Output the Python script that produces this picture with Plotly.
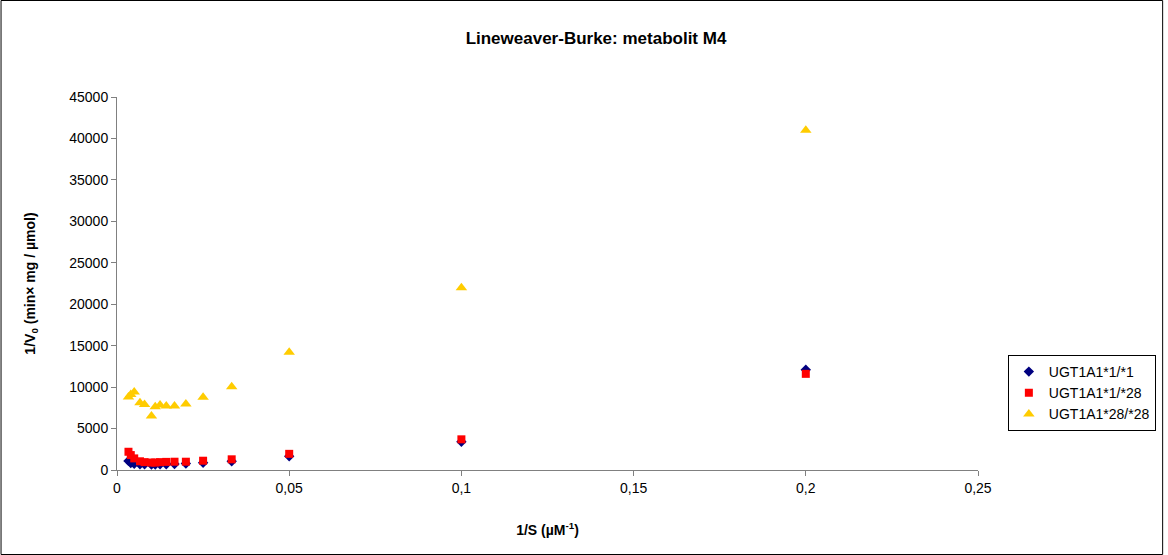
import plotly.graph_objects as go

# 1/S values (µM^-1)
inv_s = [0.2, 0.1, 0.05, 0.0333, 0.025, 0.02, 0.0167, 0.0143, 0.0125, 0.0111,
         0.01, 0.008, 0.00667, 0.005, 0.004, 0.00333]

ugt_11 = [12100, 3400, 1650, 1050, 880, 780, 720, 700, 680, 650,
          650, 680, 700, 750, 850, 1100]
ugt_128 = [11600, 3700, 1950, 1290, 1120, 1000, 1000, 980, 950, 900,
           900, 950, 1050, 1400, 1800, 2200]
ugt_2828 = [41000, 22000, 14200, 10050, 8770, 7960, 7720, 7720, 7840, 7640,
            6500, 7900, 8100, 9400, 9100, 8800]

series_names = ["UGT1A1*1/*1", "UGT1A1*1/*28", "UGT1A1*28/*28"]
x_ticks = [0, 0.05, 0.1, 0.15, 0.2, 0.25]
y_ticks = [0, 5000, 10000, 15000, 20000, 25000, 30000, 35000, 40000, 45000]

font_family = "Liberation Sans, Arial, sans-serif"

fig = go.Figure()
fig.add_trace(go.Scatter(x=inv_s, y=ugt_11, mode="markers", name=series_names[0],
                         marker=dict(symbol="diamond", size=8, color="#000080")))
fig.add_trace(go.Scatter(x=inv_s, y=ugt_128, mode="markers", name=series_names[1],
                         marker=dict(symbol="square", size=8, color="#FF0000")))
fig.add_trace(go.Scatter(x=inv_s, y=ugt_2828, mode="markers", name=series_names[2],
                         marker=dict(symbol="triangle-up", size=10, color="#FFCC00")))

L, R, T, B = 117, 186, 97, 85
W, H = 1168, 555
pw, ph = W - L - R, H - T - B

fig.update_layout(
    width=W, height=H, autosize=False,
    margin=dict(l=L, r=R, t=T, b=B),
    paper_bgcolor="white", plot_bgcolor="white",
    separators=", ",
    font=dict(family=font_family, size=14, color="black"),
    title=dict(text="<b>Lineweaver-Burke: metabolit M4</b>", x=596 / W, xref="container",
               xanchor="center", y=1 - 38 / H, yanchor="middle",
               font=dict(size=17, family=font_family)),
    showlegend=True,
    legend=dict(x=(1012 - L) / pw, y=(H - B - 355) / ph, xanchor="left", yanchor="top",
                bordercolor="black", borderwidth=1, bgcolor="white",
                font=dict(size=14), tracegroupgap=0, itemsizing="trace"),
    xaxis=dict(range=[0, 0.25], tickvals=x_ticks, showgrid=False, zeroline=False,
               showline=True, linecolor="#808080", linewidth=1, ticks="outside",
               ticklen=5, tickcolor="#808080", tickfont=dict(size=14),
               title=dict(text="<b>1/S (µM<sup>-1</sup>)</b>", font=dict(size=14), standoff=30)),
    yaxis=dict(range=[0, 45000], tickvals=y_ticks, tickformat="d", showgrid=False,
               zeroline=False, showline=True, linecolor="#808080", linewidth=1,
               ticks="outside", ticklen=5, tickcolor="#808080", tickfont=dict(size=14),
               title=dict(text="<b>1/V<sub>0</sub> (min× mg / µmol)</b>", font=dict(size=14),
                          standoff=30)),
    shapes=[dict(type="rect", xref="paper", yref="paper",
                 x0=(0.5 - L) / pw, x1=(W - 0.5 - L) / pw,
                 y0=(H - B - (H - 0.5)) / ph, y1=(H - B - 0.5) / ph,
                 line=dict(color="black", width=1), fillcolor="rgba(0,0,0,0)", layer="below")],
)

post_js = (
    "document.documentElement.style.overflow='hidden';"
    "document.body.style.margin='0';"
    "document.body.style.overflow='hidden';"
    "var gd=document.getElementById('{plot_id}');"
    "Plotly.relayout(gd,{width:%d,height:%d});" % (W, H)
)

fig.write_html("out.html",
               config={"responsive": False, "displayModeBar": False},
               post_script=post_js)
